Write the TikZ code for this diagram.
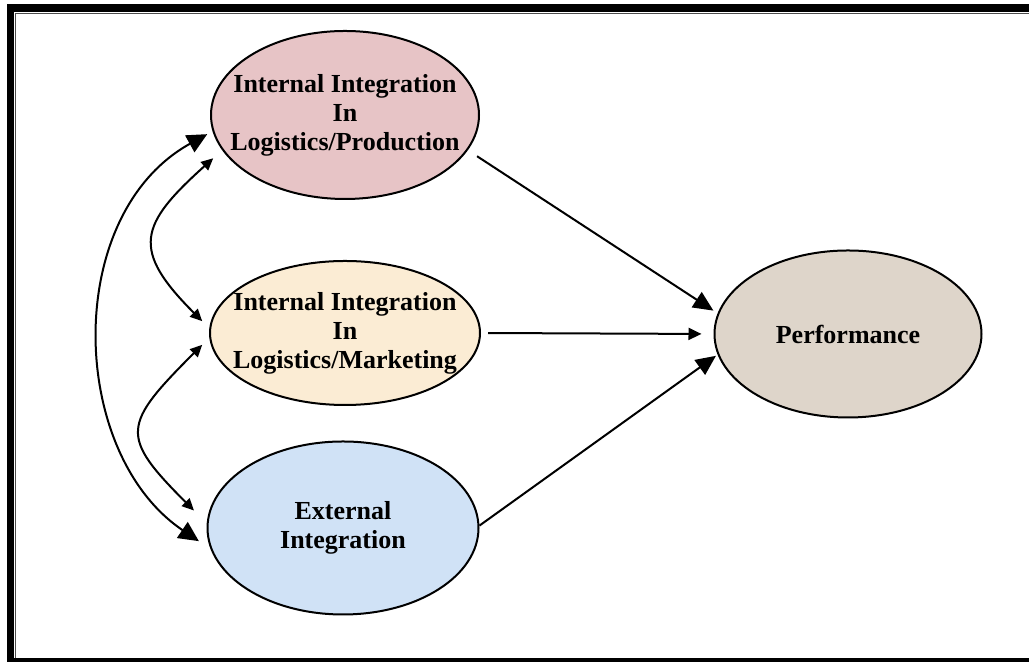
\documentclass[tikz,border=0pt]{standalone}
\usepackage{fontspec}
\setmainfont{Liberation Serif}
\usepackage{xcolor}
\usetikzlibrary{arrows.meta,shapes.geometric}
\definecolor{prodpink}{RGB}{231,196,198}
\definecolor{mktcream}{RGB}{251,236,212}
\definecolor{extblue}{RGB}{208,226,246}
\definecolor{perfbeige}{RGB}{222,213,202}

\begin{document}
\begin{tikzpicture}[
  x=0.5pt,y=0.5pt,
  font=\fontsize{13}{14.5}\selectfont\bfseries,
  factor/.style={ellipse,draw=black,line width=1pt,align=center,inner sep=-15pt},
  arrow/.style={-{Triangle[length=10pt,width=9pt]},line width=1pt},
  thinarrow/.style={-{Triangle[length=6.5pt,width=6pt]},line width=1pt},
  bigboth/.style={{Triangle[length=10pt,width=9.5pt]}-{Triangle[length=10pt,width=9.5pt]},line width=1pt},
  smallboth/.style={{Triangle[length=6pt,width=5.5pt]}-{Triangle[length=6pt,width=5.5pt]},line width=1pt}
]
\useasboundingbox (0,0) rectangle (1029,662);
\fill (7,0) rectangle (14,658);
\fill (7,650) rectangle (1029,658);
\fill (7,0) rectangle (1029,4);
\draw[line width=0.5pt,black!70] (15.5,4) -- (15.5,648.5) -- (1029,648.5);

\node[factor,fill=prodpink,minimum width=134pt,minimum height=84pt] (prod) at (345,547) {Internal Integration\\In\\Logistics/Production};
\node[factor,fill=mktcream,minimum width=135pt,minimum height=72pt] (mkt) at (345,329) {Internal Integration\\In\\Logistics/Marketing};
\node[factor,fill=extblue,minimum width=135.5pt,minimum height=86.5pt] (ext) at (343,134) {External\\Integration};
\node[factor,fill=perfbeige,minimum width=133.5pt,minimum height=83.5pt] (perf) at (848,328) {Performance};

\draw[arrow,shorten <=5.5pt,shorten >=2.5pt] (prod.-16) -- (perf.171);
\draw[thinarrow,shorten <=3.5pt,shorten >=6pt] (mkt.east) -- (perf.west);
\draw[arrow,shorten >=1pt] (ext.1) -- (perf.189);

\draw[bigboth,shorten <=3pt,shorten >=7pt] (prod.187) to[out=209,in=146,looseness=1.05] (ext.189);
\draw[smallboth,shorten <=6pt,shorten >=5pt] (prod.196) to[out=222,in=135,looseness=1.6] (mkt.178);
\draw[smallboth,shorten <=5pt,shorten >=9pt] (mkt.182) to[out=225,in=135,looseness=1.7] (ext.178);
\end{tikzpicture}
\end{document}
